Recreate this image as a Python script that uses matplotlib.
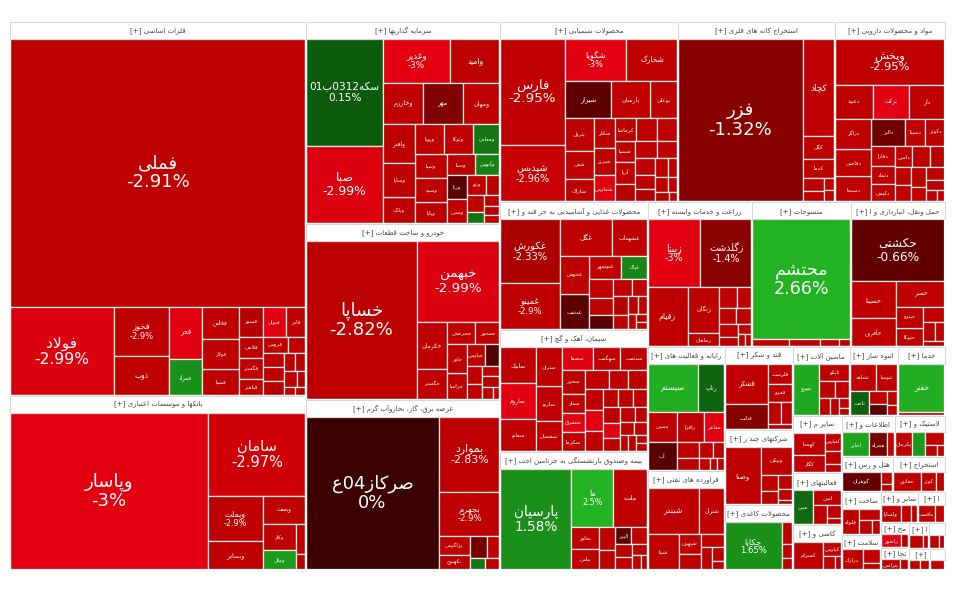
import re
import numpy as np
import matplotlib
matplotlib.use("Agg")
import matplotlib.pyplot as plt
from matplotlib.patches import Rectangle

# ---- data: sectors, tickers (small unnamed cells left out), market weight, daily change % ----
sectors = [
    'فلزات اساسی', 'بانکها و موسسات اعتباری', 'سرمایه گذاریها', 'خودرو و ساخت قطعات',
    'عرضه برق، گاز، بخاروآب گرم', 'محصولات شیمیایی', 'استخراج کانه های فلزی',
    'مواد و محصولات دارویی', 'محصولات غذایی و آشامیدنی به جز قند و شکر', 'سیمان، آهک و گچ',
    'بیمه وصندوق بازنشستگی به جزتامین اجتماعی', 'زراعت و خدمات وابسته', 'منسوجات',
    'حمل ونقل، انبارداری و ارتباطات', 'رایانه و فعالیت های وابسته به آن',
    'فراورده های نفتی، کک و سوخت هسته ای', 'قند و شکر', 'شرکتهای چند رشته ای صنعتی',
    'محصولات کاغذی', 'ماشین آلات و تجهیزات', 'انبوه سازی، املاک و مستغلات',
    'خدمات فنی و مهندسی', 'سایر محصولات کانی غیرفلزی', 'فعالیتهای کمکی به نهادهای مالی واسط',
    'کاشی و سرامیک', 'اطلاعات و ارتباطات', 'لاستیک و پلاستیک', 'هتل و رستوران',
    'استخراج نفت گاز و خدمات جنبی', 'ساخت محصولات فلزی', 'سلامت انسان و مددکاری اجتماعی',
    'سایر واسطه گریهای مالی', 'انتشار، چاپ و تکثیر', 'مخابرات', 'تجارت عمده فروشی',
    'استخراج ذغال سنگ', 'دباغی، پرداخت چرم', 'حمل و نقل آبی', 'ورزش و سرگرمی',
]

tickers = [
    ['فملی', 'فولاد', 'فخوز', 'ذوب', 'فجر', 'فمراد', 'فخاس', 'فسپا', 'فولاژ', 'فسوز', 'فنوال',
     'فاذر', 'فلامی', 'فگستر', 'فباهنر', 'فروس'],
    ['وپاسار', 'سامان', 'وبملت', 'وبصادر', 'وپست', 'وکار', 'وملل'],
    ['سکه0312ب01', 'صبا', 'وغدیر', 'وامید', 'وخارزم', 'مهر', 'ومهان', 'وسپا', 'وبانک', 'وپایا',
     'وسپه', 'ومعادن', 'ولغدر', 'وآتوس', 'وپویا', 'وساپا', 'وتوکا', 'وسنا', 'ورنا', 'وسین', 'وثنو'],
    ['خساپا', 'خبهمن', 'خکرمان', 'خگستر', 'خچرخش', 'خمحور', 'خزامیا', 'خاور', 'خپارس'],
    ['صرکاز04ع', 'بموارد', 'بجهرم', 'بزاگرس', 'بکهنوج'],
    ['فارس', 'شپدیس', 'شگویا', 'شخارک', 'شیراز', 'پترول', 'شفن', 'شکلر', 'بوعلی', 'پارسان',
     'شسپا', 'آریا', 'شاراک', 'شبریز', 'شفارس', 'کرماشا'],
    ['فزر', 'کچاد', 'کگل', 'کدما'],
    ['وپخش', 'دعبید', 'برکت', 'دلر', 'دسبحا', 'دالبر', 'دقاضی', 'دزاگر', 'دسینا', 'دکوثر',
     'دفارا', 'دتماد', 'دکیمی', 'دامین'],
    ['غکورش', 'غمینو', 'غگل', 'غشهداب', 'غدشت', 'غنوشهر', 'غپاک', 'غخوش'],
    ['سابیک', 'ساروم', 'سفانو', 'سارود', 'سشمال', 'ستران', 'سصفا', 'سهگمت', 'سدشت', 'سخزر',
     'سفار', 'سشرق', 'سکرما'],
    ['پارسیان', 'ما', 'ملت', 'بخاور', 'بپاس', 'البرز'],
    ['زبینا', 'زگلدشت', 'زقیام', 'زنگان', 'زماهان'],
    ['محتشم'],
    ['حکشتی', 'حسینا', 'حآفرین', 'حتوکا', 'حسیر', 'حپترو'],
    ['سیستم', 'رتاپ', 'ممبین', 'رافزا', 'مفاخر', 'آپ'],
    ['شبندر', 'شپنا', 'شتران', 'شبهرن'],
    ['قشکر', 'قثابت', 'قلرست', 'قمرو'],
    ['وصنا', 'ونیکی'],
    ['چکاپا'],
    ['بنیرو', 'تاپکو'],
    ['ثشاهد', 'ثاخت', 'ثنوسا'],
    ['خفنر'],
    ['کهمدا', 'کگاز', 'کفپارس'],
    ['مبین', 'امین'],
    ['کسرام', 'کپارس'],
    ['اخابر', 'همراه'],
    ['پکرمان', 'پاسا'],
    ['گوهران'],
    ['حفاری', 'کوثر'],
    ['فلوله'],
    ['درازک'],
    ['ولساپا'],
    ['چافست'],
    ['رانفور'],
    ['بترانس'],
    ['کزغال'],
    [], [], [],
]

weights = [
    [792, 92, 27, 22, 17, 12, 12, 10, 11, 7, 7, 6, 5, 5, 4, 4, 3, 3, 3, 3, 2, 2, 2, 1.5, 1, 1],
    [328, 87, 26, 17, 13, 9, 7, 3.3, 1.7],
    [85, 62, 31, 23, 17, 17, 16, 8, 9, 7, 8, 8.5, 13, 5.4, 9, 11.5, 9, 6, 5, 5, 4, 3, 3, 2, 2, 1.5, 1.5],
    [185, 72, 15, 10, 6.6, 5.9, 5.5, 5.8, 4, 3.5, 3, 2.5, 2, 2, 1.5, 1],
    [215, 49, 29, 6, 5, 4, 3, 2, 2],
    [72, 39, 27, 23, 18, 10, 8.6, 6.7, 11, 15, 4.6, 4.6, 7, 6, 6, 5, 5, 5, 4, 4, 4, 3.5, 3, 3,
     2.5, 2, 2, 1.5, 1.5, 1],
    [214, 33, 7.8, 6.4, 3, 2.5, 1.5, 1.5],
    [53, 13.5, 13, 13, 10, 9.4, 10.4, 11.7, 5.6, 5.6, 5, 4.5, 4.5, 4, 4, 3.5, 3, 3, 3, 2.5, 2.5, 2, 1.5, 1],
    [42, 31, 20.6, 14.3, 11.4, 8, 6.6, 12, 5, 4.5, 4, 3.5, 3, 3, 2.5, 2, 2, 1.5, 1, 1],
    [14, 14, 12.7, 10, 9, 11.5, 8, 7, 7, 6, 5, 5, 5, 5, 4, 4, 4, 4, 4, 3, 3, 3, 3, 3, 2.5, 2.5,
     2, 2, 2, 1.5, 1.5, 1, 1],
    [80, 27.5, 22.4, 6.6, 6.6, 3, 4, 3.5, 3, 2.5, 2.5, 2, 1.5, 1],
    [38, 38, 26, 16, 4.6, 4, 3.5, 3, 3, 2.5, 2, 1.5, 1, 1],
    [127, 3, 2.5, 1.5, 1],
    [63, 18, 13.8, 5.5, 13.6, 6, 3.5, 2.5, 2, 1.4],
    [27, 14.3, 9.7, 9, 6.8, 9.3, 4, 3, 2.5, 2, 1.5, 1, 1],
    [27.5, 13, 13.7, 5, 4, 3.5, 3, 2, 1.3],
    [21, 13.5, 5.9, 5.4, 3.5, 3, 2],
    [25.7, 10.8, 3.5, 3, 2.5, 2, 1],
    [35.4, 3, 2, 1.6],
    [17, 7, 3.5, 3, 2.5, 2, 1.5, 1],
    [9, 6, 7.5, 3, 2.5, 2, 1.5],
    [29, 2],
    [10, 8, 4, 3, 2],
    [10, 6, 4, 2.5, 1.5],
    [13, 4, 2.5, 1.5],
    [11, 7, 3],
    [7, 5, 4, 2.5, 1.5],
    [13, 2.5, 1.5],
    [9, 5, 3],
    [7, 4, 3, 2],
    [7, 4, 2],
    [6, 3, 2],
    [5, 3],
    [5, 2],
    [4, 2],
    [3.5, 1.5],
    [2.5, 1.5],
    [2, 2],
    [3],
]

changes = [
    [-2.91, -2.99, -2.9, -2.88, -3.0, 1.6, -2.9, -2.85, -2.92, -2.6, -3.0, -2.9, -2.8, -2.95, -2.9,
     -2.9, -2.9, -2.85, -2.9, -2.7, -2.9, -2.8, -2.9, -2.6, -2.9, -2.8],
    [-3.0, -2.97, -2.9, -2.93, -2.85, -2.9, 1.9, -2.9, -2.8],
    [0.15, -2.99, -3.0, -2.9, -2.9, -1.2, -2.85, -2.9, -2.9, -2.8, -2.9, 0.9, -2.9, 1.2, -2.9,
     -2.9, -2.9, -2.8, -0.5, -2.9, -2.9, -2.7, -2.9, 0.8, -2.9, -2.6, -2.9],
    [-2.82, -2.99, -2.9, -2.9, -2.9, -2.8, -2.9, -2.85, -2.9, -0.4, -2.9, -2.8, -2.9, -2.7, -2.9, -2.9],
    [0.0, -2.83, -2.9, -2.9, -2.8, -1.0, -2.9, 0.9, -2.8],
    [-2.95, -2.96, -3.0, -2.9, -0.6, -2.85, -2.9, -2.9, -2.9, -2.95, -2.9, -2.9, -2.9, -2.85,
     -3.0, -2.8, -2.9, -2.9, -2.7, -2.9, -2.85, -2.9, -2.9, -2.6, -2.9, -2.9, -2.8, -2.9, -2.7, -2.9],
    [-1.32, -2.9, -2.85, -2.9, -2.9, -2.8, -2.9, -2.8],
    [-2.95, -2.9, -3.0, -2.9, -2.85, -0.9, -2.9, -2.9, -2.9, -2.8, -2.9, -2.9, -2.85, -2.9, -2.9,
     -2.7, -2.9, -2.9, -2.8, -2.9, -2.9, -2.7, -2.9, -2.9],
    [-2.33, -2.9, -2.9, -2.9, -0.6, -2.9, 1.3, -2.9, -2.9, -2.8, -0.5, -2.9, -2.9, -2.7, -2.9,
     -2.8, -2.9, -2.9, -2.6, -2.9],
    [-2.9, -3.0, -2.9, -2.85, -2.9, -2.9, -3.0, -2.9, -2.9, -2.8, -2.9, -3.0, -2.9, -2.9, -2.85,
     -2.9, -2.9, -3.0, -2.9, -2.8, -2.9, -2.9, -2.9, -3.0, -2.9, -2.9, -2.8, -2.9, -2.9, -2.9,
     -2.7, -2.9, -2.9],
    [1.58, 2.5, -2.9, -2.9, -2.9, -0.5, -2.9, -2.8, -2.9, -2.7, -2.9, -2.8, -2.9, -2.6],
    [-3.0, -1.4, -2.9, -2.9, -2.8, -2.9, -2.9, -2.8, -2.9, -2.9, -2.7, -2.9, -2.9, -2.8],
    [2.66, -2.9, -2.8, -2.9, -2.9],
    [-0.66, -2.9, -2.9, -2.9, -2.9, -2.85, -2.9, -2.8, -2.9, -2.7],
    [2.4, 0.4, -2.9, -2.9, -3.0, -0.5, -2.9, -2.8, -2.9, -2.7, -2.9, -2.8, -2.6],
    [-2.9, -2.9, -2.9, -2.9, -2.8, -2.9, -2.9, -2.8, -2.9],
    [-2.9, -1.3, -2.9, -2.9, -2.8, -2.9, -2.9],
    [-2.9, -2.9, -2.9, -2.8, -2.9, -2.9, -2.7],
    [1.65, -2.9, -2.9, -2.8],
    [2.2, -2.9, -2.9, -2.9, -2.8, -2.9, -2.9, -2.8],
    [-2.9, 0.3, -2.9, -2.9, -0.5, -2.9, -2.9],
    [2.4, -2.9],
    [-2.9, -2.9, -2.9, -2.8, -2.9],
    [0.5, -2.9, -2.9, -2.8, -2.9],
    [-2.9, -2.9, -2.9, -2.8],
    [2.1, -1.0, -2.9],
    [-2.9, 1.8, -2.9, -2.8, -2.9],
    [-0.7, -2.9, -2.9],
    [-2.9, -2.9, -2.8],
    [-2.9, -2.9, -2.8, -2.9],
    [-2.9, -2.9, -2.8],
    [-2.9, -2.8, -2.9],
    [-2.9, -2.9],
    [-3.0, -2.9],
    [-2.9, -2.8],
    [-2.9, -2.9],
    [-2.9, -2.8],
    [-2.9, -2.9],
    [-2.9],
]

# ---- Persian shaping (no reshaper library available) ----
FORMS = {
    '\u0622': '\uFE81\uFE82', '\u0623': '\uFE83\uFE84', '\u0624': '\uFE85\uFE86',
    '\u0625': '\uFE87\uFE88', '\u0626': '\uFE89\uFE8A\uFE8B\uFE8C', '\u0627': '\uFE8D\uFE8E',
    '\u0628': '\uFE8F\uFE90\uFE91\uFE92', '\u0629': '\uFE93\uFE94',
    '\u062A': '\uFE95\uFE96\uFE97\uFE98', '\u062B': '\uFE99\uFE9A\uFE9B\uFE9C',
    '\u062C': '\uFE9D\uFE9E\uFE9F\uFEA0', '\u062D': '\uFEA1\uFEA2\uFEA3\uFEA4',
    '\u062E': '\uFEA5\uFEA6\uFEA7\uFEA8', '\u062F': '\uFEA9\uFEAA', '\u0630': '\uFEAB\uFEAC',
    '\u0631': '\uFEAD\uFEAE', '\u0632': '\uFEAF\uFEB0',
    '\u0633': '\uFEB1\uFEB2\uFEB3\uFEB4', '\u0634': '\uFEB5\uFEB6\uFEB7\uFEB8',
    '\u0635': '\uFEB9\uFEBA\uFEBB\uFEBC', '\u0636': '\uFEBD\uFEBE\uFEBF\uFEC0',
    '\u0637': '\uFEC1\uFEC2\uFEC3\uFEC4', '\u0638': '\uFEC5\uFEC6\uFEC7\uFEC8',
    '\u0639': '\uFEC9\uFECA\uFECB\uFECC', '\u063A': '\uFECD\uFECE\uFECF\uFED0',
    '\u0641': '\uFED1\uFED2\uFED3\uFED4', '\u0642': '\uFED5\uFED6\uFED7\uFED8',
    '\u0643': '\uFED9\uFEDA\uFEDB\uFEDC', '\u0644': '\uFEDD\uFEDE\uFEDF\uFEE0',
    '\u0645': '\uFEE1\uFEE2\uFEE3\uFEE4', '\u0646': '\uFEE5\uFEE6\uFEE7\uFEE8',
    '\u0647': '\uFEE9\uFEEA\uFEEB\uFEEC', '\u0648': '\uFEED\uFEEE',
    '\u0649': '\uFEEF\uFEF0', '\u064A': '\uFEF1\uFEF2\uFEF3\uFEF4',
    '\u067E': '\uFB56\uFB57\uFB58\uFB59', '\u0686': '\uFB7A\uFB7B\uFB7C\uFB7D',
    '\u0698': '\uFB8A\uFB8B', '\u06A9': '\uFB8E\uFB8F\uFB90\uFB91',
    '\u06AF': '\uFB92\uFB93\uFB94\uFB95', '\u06CC': '\uFBFC\uFBFD\uFBFE\uFBFF',
}
LAM_ALEF = {'\u0627': '\uFEFB\uFEFC', '\u0622': '\uFEF5\uFEF6',
            '\u0623': '\uFEF7\uFEF8', '\u0625': '\uFEF9\uFEFA'}
MIRROR = {'[': ']', ']': '[', '(': ')', ')': '('}


def shape(s):
    out = []
    i = 0
    while i < len(s):
        c = s[i]
        if c not in FORMS:
            if c != '\u200c':
                out.append(c)
            i += 1
            continue
        prev = s[i - 1] if i > 0 else ''
        jp = prev in FORMS and len(FORMS[prev]) == 4
        if c == '\u0644' and i + 1 < len(s) and s[i + 1] in LAM_ALEF:
            out.append(LAM_ALEF[s[i + 1]][1 if jp else 0])
            i += 2
            continue
        nxt = s[i + 1] if i + 1 < len(s) else ''
        f = FORMS[c]
        jn = len(f) == 4 and nxt in FORMS
        if jp and jn:
            out.append(f[3])
        elif jp:
            out.append(f[1])
        elif jn:
            out.append(f[2])
        else:
            out.append(f[0])
        i += 1
    return ''.join(out)


def visual(s):
    if not any('\u0600' <= ch <= '\u06ff' for ch in s):
        return s
    runs = re.findall(r'[0-9A-Za-z.%]+|[^0-9A-Za-z.%]', shape(s))
    return ''.join(MIRROR.get(r, r) for r in reversed(runs))


# ---- squarified treemap layout ----
def worst(row, side):
    s = sum(row)
    return max(side * side * max(row) / (s * s), s * s / (side * side * min(row)))


def squarify(values, x, y, w, h):
    order = sorted(range(len(values)), key=lambda i: -values[i])
    total = float(sum(values))
    areas = [values[i] * w * h / total for i in order]
    rects = [None] * len(values)
    k = 0
    while k < len(areas):
        vertical = w * 1.06 >= h
        side = max(h if vertical else w, 1e-9)
        row = [areas[k]]
        j = k + 1
        while j < len(areas) and worst(row + [areas[j]], side) <= worst(row, side):
            row.append(areas[j])
            j += 1
        s = sum(row)
        if vertical:
            cw = s / max(h, 1e-9)
            yy = y
            for a, idx in zip(row, order[k:j]):
                rects[idx] = (x, yy, cw, a / cw)
                yy += a / cw
            x += cw
            w -= cw
        else:
            rh = s / max(w, 1e-9)
            xx = x
            for a, idx in zip(row, order[k:j]):
                rects[idx] = (xx, y, a / rh, rh)
                xx += a / rh
            y += rh
            h -= rh
        k = j
    return rects


def cell_color(c):
    if c > 0.001:
        t = min(c / 2.5, 1.0)
        return (np.interp(t, [0, 1], [0x0b, 0x22]) / 255,
                np.interp(t, [0, 1], [0x55, 0xb2]) / 255,
                np.interp(t, [0, 1], [0x0b, 0x22]) / 255)
    m = -c
    r = np.interp(m, [0, 1.32, 2.95, 3.0], [0x3c, 0x88, 0xc0, 0xe2])
    b = np.interp(m, [0, 2.95, 3.0], [0, 0, 0x10])
    return (r / 255, 0, b / 255)


fig = plt.figure(figsize=(9.6, 6), dpi=100)
ax = fig.add_axes([0, 0, 1, 1])
ax.set_xlim(0, 960)
ax.set_ylim(600, 0)
ax.axis('off')
renderer = fig.canvas.get_renderer()


def fit(t, w, h, fs, minfs=4.0):
    for _ in range(5):
        bb = t.get_window_extent(renderer=renderer)
        sc = min(0.92 * w / max(bb.width, 1), 0.88 * h / max(bb.height, 1), 1.0)
        if sc >= 0.999:
            return
        fs *= sc
        if fs < minfs:
            t.remove()
            return
        t.set_fontsize(fs * 0.72)


def cell_label(x, y, w, h, name, ch):
    if not name or w < 14 or h < 10:
        return
    fs = min(18.0, np.sqrt(w * h) / 6.2)
    if fs >= 8 and h >= 40 and w >= 40:
        s = visual(name) + '\n' + f'{ch:g}%'
    else:
        s = visual(name)
        fs = max(fs, 5.5)
    t = ax.text(x + w / 2, y + h / 2, s, color='white', fontsize=fs * 0.72,
                ha='center', va='center', linespacing=1.05)
    fit(t, w, h, fs)


def header(x, y, w, hh, name):
    ax.add_patch(Rectangle((x, y), w, hh, facecolor='white', edgecolor='#d0d0d0', lw=0.6))
    base = name
    fs = 7.0
    while True:
        t = ax.text(x + w / 2, y + hh / 2 + 0.5, visual(base + ' [+]'), color='#444444',
                    fontsize=fs * 0.72, ha='center', va='center')
        bb = t.get_window_extent(renderer=renderer)
        if bb.width <= w - 4:
            return
        t.remove()
        if not base:
            return
        keep = max(0, int(len(base) * (w - 4) / bb.width) - 2)
        base = base[:keep].rstrip()


totals = [sum(v) for v in weights]
sector_rects = squarify(totals, 10, 22, 935, 548)

for si, (sx, sy, sw, sh) in enumerate(sector_rects):
    hh = min(17.0, 0.3 * sh + 4)
    cells = squarify(weights[si], sx, sy + hh, sw, sh - hh)
    for k, (cx, cy, cw, ch_) in enumerate(cells):
        ax.add_patch(Rectangle((cx, cy), cw, ch_, facecolor=cell_color(changes[si][k]),
                               edgecolor='#f6ecec', lw=0.9))
        name = tickers[si][k] if k < len(tickers[si]) else ''
        cell_label(cx, cy, cw, ch_, name, changes[si][k])
    ax.add_patch(Rectangle((sx, sy), sw, sh, fill=False, edgecolor='white', lw=1.6))
    header(sx, sy, sw, hh, sectors[si])

fig.savefig('out.png', dpi=100, facecolor='white')
